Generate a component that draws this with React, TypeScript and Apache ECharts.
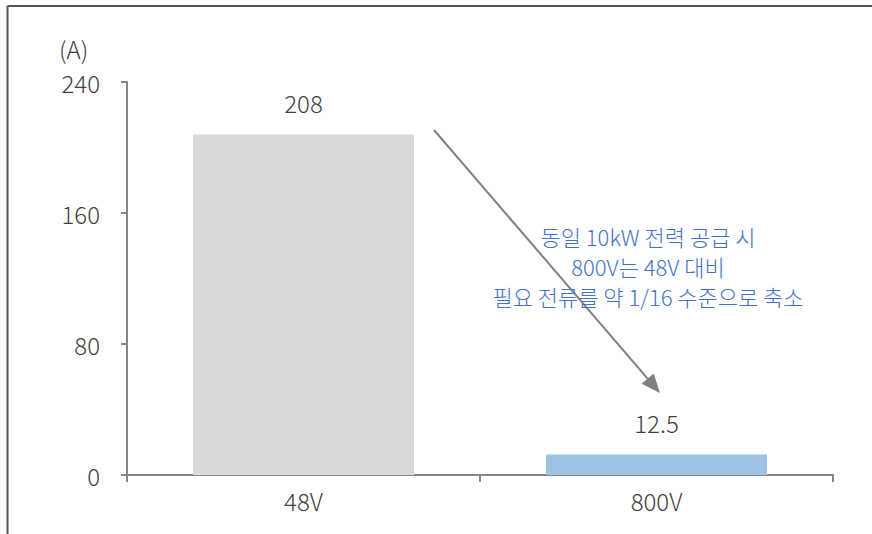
import React, { useEffect, useRef } from "react";
import * as echarts from "echarts";

const categories = ["48V", "800V"];
const currentValues = [208, 12.5];
const barColors = ["#d9d9d9", "#9dc3e6"];
const yTicks = { min: 0, max: 240, interval: 80 };
const unitLabel = "(A)";
const noteLines = ["동일 10kW 전력 공급 시", "800V는 48V 대비", "필요 전류를 약 1/16 수준으로 축소"];

const FONT = "'Noto Sans CJK KR', 'Noto Sans', sans-serif";
const TEXT = "#404040";
const AXIS = "#868686";

export default function App() {
  const ref = useRef<HTMLDivElement>(null);

  useEffect(() => {
    if (!ref.current) return;
    const chart = echarts.init(ref.current, undefined, { renderer: "svg" });

    // arrow from the 48V bar towards the 800V bar
    const start = [434, 130];
    const tip = [660, 393];
    const dx = tip[0] - start[0];
    const dy = tip[1] - start[1];
    const len = Math.hypot(dx, dy);
    const ux = dx / len;
    const uy = dy / len;
    const headLen = 19;
    const headHalf = 8;
    const base = [tip[0] - ux * headLen, tip[1] - uy * headLen];
    const nx = -uy;
    const ny = ux;

    chart.setOption({
      animation: false,
      backgroundColor: "#ffffff",
      grid: { left: 127, right: 39, top: 82, bottom: 59 },
      xAxis: {
        type: "category",
        data: categories,
        axisLine: { lineStyle: { color: AXIS, width: 2 } },
        axisTick: { show: true, length: 7, lineStyle: { color: AXIS, width: 2 } },
        axisLabel: { color: TEXT, fontSize: 24, fontFamily: FONT, fontWeight: 300, margin: 13 },
      },
      yAxis: {
        type: "value",
        min: yTicks.min,
        max: yTicks.max,
        interval: yTicks.interval,
        axisLine: { show: true, lineStyle: { color: AXIS, width: 2 } },
        axisTick: { show: true, length: 6, lineStyle: { color: AXIS, width: 2 } },
        splitLine: { show: false },
        axisLabel: {
          color: TEXT,
          fontSize: 24,
          fontFamily: FONT,
          fontWeight: 300,
          margin: 27,
          padding: [0, 0, 6, 0],
        },
      },
      series: [
        {
          type: "bar",
          barWidth: "62.6%",
          data: currentValues.map((v, i) => ({ value: v, itemStyle: { color: barColors[i] } })),
          label: {
            show: true,
            position: "top",
            distance: 20,
            color: TEXT,
            fontSize: 24,
            fontFamily: FONT,
            fontWeight: 300,
          },
        },
      ],
      graphic: [
        // frame edges
        { type: "line", shape: { x1: 7.5, y1: 6, x2: 7.5, y2: 534 }, style: { stroke: "#555555", lineWidth: 2 } },
        { type: "line", shape: { x1: 7.5, y1: 6, x2: 872, y2: 6 }, style: { stroke: "#555555", lineWidth: 2 } },
        {
          type: "text",
          x: 59,
          y: 48,
          style: { text: unitLabel, fill: TEXT, font: `300 24px ${FONT}`, textVerticalAlign: "middle" },
        },
        {
          type: "line",
          shape: { x1: start[0], y1: start[1], x2: base[0], y2: base[1] },
          style: { stroke: "#808080", lineWidth: 2 },
        },
        {
          type: "polygon",
          shape: {
            points: [
              tip,
              [base[0] + nx * headHalf, base[1] + ny * headHalf],
              [base[0] - nx * headHalf, base[1] - ny * headHalf],
            ],
          },
          style: { fill: "#808080" },
        },
        ...noteLines.map((t, i) => ({
          type: "text",
          x: 648,
          y: 236 + i * 30,
          style: {
            text: t,
            fill: "#4472c4",
            font: `300 22px ${FONT}`,
            textAlign: "center",
            textVerticalAlign: "middle",
          },
        })),
      ],
    });

    return () => chart.dispose();
  }, []);

  return (
    <div
      ref={ref}
      style={{ position: "fixed", left: 0, top: 0, width: 872, height: 534 }}
    />
  );
}
